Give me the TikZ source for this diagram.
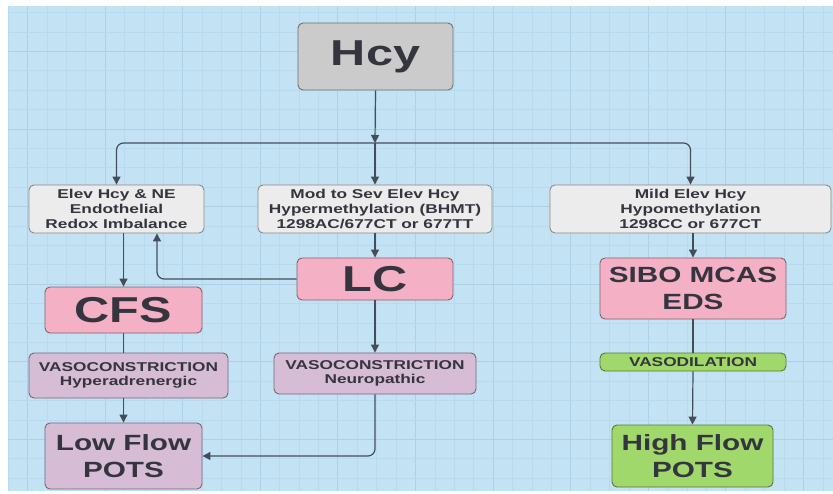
\documentclass[tikz,border=0pt]{standalone}
\usepackage{fontspec}
\setmainfont{Liberation Sans}[FakeStretch=1.35]
\usetikzlibrary{arrows.meta}
\definecolor{bgblue}{HTML}{C3E2F4}
\definecolor{gridminor}{HTML}{B8DAEE}
\definecolor{gridmajor}{HTML}{ACD0E6}
\definecolor{txt}{HTML}{35353F}
\definecolor{linec}{HTML}{454D5A}
\definecolor{hcyfill}{HTML}{CBCBCB}
\definecolor{grayfill}{HTML}{ECECEC}
\definecolor{grayborder}{HTML}{8A8A8A}
\definecolor{pinkfill}{HTML}{F4B0C4}
\definecolor{purpfill}{HTML}{D6BCD5}
\definecolor{greenfill}{HTML}{A1D86C}
\begin{document}
\begin{tikzpicture}[x=1pt,y=-1pt,
  box/.style={draw=#1, rounded corners=5pt, line width=0.9pt, inner sep=0pt, align=center, text=txt, font=\bfseries},
  hcybox/.style={box=hcyfill!55!black, fill=hcyfill},
  graybox/.style={box=grayborder, fill=grayfill},
  pinkbox/.style={box=pinkfill!55!black, fill=pinkfill},
  purpbox/.style={box=purpfill!55!black, fill=purpfill},
  greenbox/.style={box=greenfill!55!black, fill=greenfill},
  small/.style={font=\bfseries\fontsize{12.8}{14.6}\selectfont},
  mid/.style={font=\bfseries\fontsize{22}{27}\selectfont},
  big/.style={font=\bfseries\fontsize{36}{40}\selectfont},
  conn/.style={draw=linec, line width=1.2pt, rounded corners=7pt},
  arr/.style={conn, -{Triangle[length=8pt,width=8pt]}}
]
\useasboundingbox (0,0) rectangle (833,493);
\fill[white] (0,0) rectangle (833,493);
\fill[bgblue] (8,6) rectangle (833,491);
% grid
\foreach \k in {0,...,42} {
  \pgfmathsetmacro{\gx}{8+19.4*\k}
  \pgfmathtruncatemacro{\mj}{mod(\k,4)==1 ? 1 : 0}
  \ifnum\mj=1
    \draw[gridmajor, line width=0.8pt] (\gx,6) -- (\gx,491);
  \else
    \draw[gridminor, line width=0.5pt] (\gx,6) -- (\gx,491);
  \fi
}
\foreach \k in {0,...,24} {
  \pgfmathsetmacro{\gy}{12.5+19.4*\k}
  \pgfmathtruncatemacro{\mj}{mod(\k,4)==2 ? 1 : 0}
  \ifnum\mj=1
    \draw[gridmajor, line width=0.8pt] (8,\gy) -- (833,\gy);
  \else
    \draw[gridminor, line width=0.5pt] (8,\gy) -- (833,\gy);
  \fi
}
% nodes
\node[hcybox, big, minimum width=155pt, minimum height=67pt] (hcy) at (375.5,56.5) {Hcy};
\node[graybox, small, minimum width=175pt, minimum height=48pt] (elev) at (116.5,209) {Elev Hcy \& NE\\Endothelial\\Redox Imbalance};
\node[graybox, small, minimum width=234pt, minimum height=48pt] (mod) at (375,209) {Mod to Sev Elev Hcy\\Hypermethylation (BHMT)\\1298AC/677CT or 677TT};
\node[graybox, small, minimum width=281pt, minimum height=48pt] (mild) at (690.5,209) {Mild Elev Hcy\\Hypomethylation\\1298CC or 677CT};
\node[pinkbox, big, minimum width=157pt, minimum height=46pt] (cfs) at (123.5,310) {CFS};
\node[pinkbox, big, minimum width=156pt, minimum height=42pt] (lc) at (375,279) {LC};
\node[pinkbox, mid, minimum width=186pt, minimum height=61pt] (sibo) at (693,288.5) {SIBO MCAS\\EDS};
\node[purpbox, small, minimum width=199pt, minimum height=45pt] (vasoh) at (128.5,375.5) {VASOCONSTRICTION\\Hyperadrenergic};
\node[purpbox, small, minimum width=202pt, minimum height=41pt] (vason) at (375,373.5) {VASOCONSTRICTION\\Neuropathic};
\node[greenbox, small, minimum width=186pt, minimum height=18pt] (vasod) at (693,362) {VASODILATION};
\node[purpbox, mid, minimum width=157pt, minimum height=66pt] (low) at (123.5,456) {Low Flow\\POTS};
\node[greenbox, mid, minimum width=161pt, minimum height=62pt] (high) at (692.5,456) {High Flow\\POTS};
% connectors
\coordinate (j) at (375,143);
\draw[arr] (hcy.south) -- (j);
\draw[arr] (j) -| (elev.north);
\draw[arr] (j) -| (mild.north);
\draw[arr] (j) -- (mod.north);
\draw[arr] (elev.south -| cfs.north) -- (cfs.north);
\draw[conn] (cfs.south) -- (cfs.south |- vasoh.north);
\draw[arr] (vasoh.south -| low.north) -- (low.north);
\draw[arr] (mod.south) -- (lc.north);
\draw[arr] (lc.west) -| ([xshift=40.5pt]elev.south);
\draw[arr] (lc.south) -- (vason.north);
\draw[arr] (vason.south) |- (low.east);
\draw[arr] (mild.south -| sibo.north) -- (sibo.north);
\draw[conn] (sibo.south) -- (vasod.north);
\draw[arr] (vasod.south) -- (high.north);
\end{tikzpicture}
\end{document}
